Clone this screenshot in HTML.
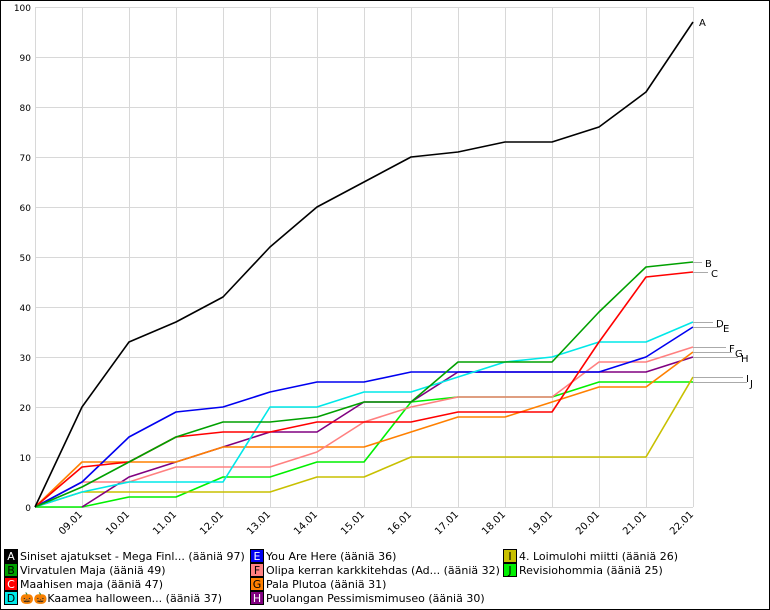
<!DOCTYPE html>
<html><head><meta charset="utf-8"><style>
body{margin:0;background:#fff}
svg{display:block;font-family:"DejaVu Sans","Liberation Sans",sans-serif}
</style></head><body>
<svg width="770" height="610" viewBox="0 0 770 610" xmlns="http://www.w3.org/2000/svg">
<rect x="0.5" y="0.5" width="769" height="609" fill="#fff" stroke="#000"/>
<g stroke="#d8d8d8" stroke-width="1" id="grid"></g>
<g id="ylab" font-size="9" text-anchor="end"></g>
<g id="xlab" font-size="10"></g>
<g id="series" fill="none" stroke-width="1.6" stroke-linejoin="round"></g>
<g id="tags" font-size="10"></g>
<g id="legend" font-size="11"></g>
</svg>
<script>
const NS="http://www.w3.org/2000/svg";
function el(p,t,a,txt){const e=document.createElementNS(NS,t);for(const k in a)e.setAttribute(k,a[k]);if(txt!==undefined)e.textContent=txt;document.getElementById(p).appendChild(e);return e;}
const X=i=>35+i*47, Y=v=>507-v*5;
for(let v=0;v<=100;v+=10){el('grid','line',{x1:35,x2:693,y1:Y(v)+.5,y2:Y(v)+.5});el('ylab','text',{x:31,y:Y(v)+4},v);}
for(let i=0;i<=14;i++){el('grid','line',{x1:X(i)+.5,x2:X(i)+.5,y1:7,y2:507});}
for(let i=1;i<=14;i++){const d=(i+8<10?'0':'')+(i+8)+'.01';el('xlab','text',{x:X(i)+1,y:515,'text-anchor':'end',transform:`rotate(-45 ${X(i)+1} 515)`},d);}
const S=[
['A','#000',[0,20,33,37,42,52,60,65,70,71,73,73,76,83,97],'Siniset ajatukset - Mega Finl... (ääniä 97)','#fff'],
['B','#00a000',[0,4,9,14,17,17,18,21,21,29,29,29,39,48,49],'Virvatulen Maja (ääniä 49)','#000'],
['C','#f00',[0,8,9,14,15,15,17,17,17,19,19,19,33,46,47],'Maahisen maja (ääniä 47)','#fff'],
['D','#00e8e8',[0,3,5,5,5,20,20,23,23,26,29,30,33,33,37],'🎃🎃Kaamea halloween... (ääniä 37)','#000'],
['E','#0000f0',[0,5,14,19,20,23,25,25,27,27,27,27,27,30,36],'You Are Here (ääniä 36)','#fff'],
['F','#ff8080',[0,5,5,8,8,8,11,17,20,22,22,22,29,29,32],'Olipa kerran karkkitehdas (Ad... (ääniä 32)','#000'],
['G','#ff8000',[0,9,9,9,12,12,12,12,15,18,18,21,24,24,31],'Pala Plutoa (ääniä 31)','#000'],
['H','#800080',[null,0,6,9,12,15,15,21,21,27,27,27,27,27,30],'Puolangan Pessimismimuseo (ääniä 30)','#fff'],
['I','#c8c000',[0,3,3,3,3,3,6,6,10,10,10,10,10,10,26],'4. Loimulohi miitti (ääniä 26)','#000'],
['J','#00f000',[0,0,2,2,6,6,9,9,21,22,22,22,25,25,25],'Revisiohommia (ääniä 25)','#000']];
for(let k=S.length-1;k>=0;k--){const s=S[k];let p=[];s[2].forEach((v,i)=>{if(v!==null)p.push(X(i)+','+Y(v));});el('series','polyline',{points:p.join(' '),stroke:s[1]});}
const tags={A:[null,699,26],B:[262,705,267],C:[272,711,277],D:[322,716,327],E:[327,723,332],F:[347,729,352],G:[352,735,357],H:[357,741,362],I:[377,746,382],J:[382,750,387]};
S.forEach(s=>{const t=tags[s[0]];const yv=Y(s[2][14]);if(t[0]!==null){el('tags','line',{x1:693,y1:yv+.5,x2:t[1]-3,y2:t[0]+.5,stroke:'#aaa'});el('tags','line',{x1:693,y1:t[0]+.5,x2:t[1]-3,y2:t[0]+.5,stroke:'#aaa'});}el('tags','text',{x:t[1],y:t[2]},s[0]);});
const cols=[4,250,503];
S.forEach((s,i)=>{let c,r;if(i<4){c=0;r=i}else if(i<8){c=1;r=i-4}else{c=2;r=i-8}const x=cols[c],y=549+r*14;
el('legend','rect',{x:x+.5,y:y+.5,width:13,height:13,fill:s[1],stroke:'#000'});
el('legend','text',{x:x+7,y:y+11,'text-anchor':'middle',fill:s[4],'font-size':11},s[0]);
el('legend','text',{x:x+16,y:y+11,fill:'#000'},s[3]);});
</script>
</body></html>
